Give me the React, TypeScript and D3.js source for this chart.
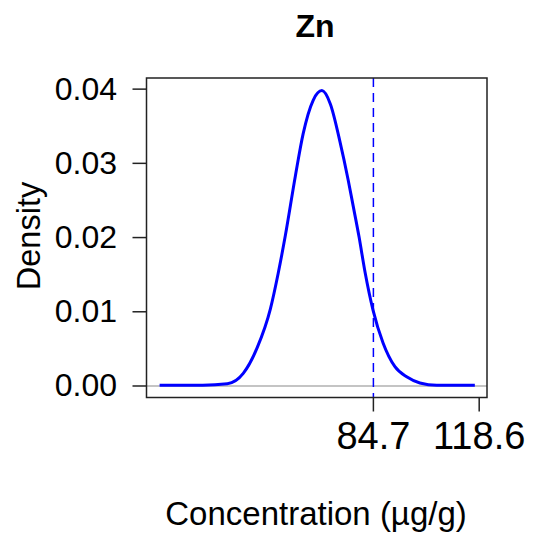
import React from "react";
import * as d3 from "d3";

const title = "Zn";
const xLabel = "Concentration (µg/g)";
const yLabel = "Density";

// density curve points (concentration, density)
const concentration = [16.2, 30.0, 37.9, 43.0, 47.5, 51.7, 54.2, 56.5, 59.7, 62.2, 65.4, 68.2, 70.9, 74.0, 76.6, 78.2, 80.1, 82.0, 84.6, 87.8, 91.6, 95.5, 99.6, 105.0, 117.2];
const density = [0.0001, 0.0001, 0.0003, 0.0017, 0.0052, 0.0104, 0.0152, 0.0203, 0.0283, 0.0340, 0.0385, 0.0398, 0.0380, 0.0329, 0.0278, 0.0243, 0.0201, 0.0154, 0.0102, 0.0058, 0.0026, 0.0012, 0.0004, 0.0001, 0.0001];

const refValue = 84.7;
const xTicks = [84.7, 118.6];
const xTickLabels = ["84.7", "118.6"];
const yTicks = [0, 0.01, 0.02, 0.03, 0.04];
const yTickLabels = ["0.00", "0.01", "0.02", "0.03", "0.04"];

const xDomain = [12.0, 121.1];
const yDomain = [-0.00155, 0.0415];

const FONT = "'Liberation Sans', Arial, Helvetica, sans-serif";

export default function App() {
  const W = 534;
  const H = 539;
  const left = 146.5;
  const right = 487;
  const top = 78;
  const bottom = 397.5;

  const x = d3.scaleLinear().domain(xDomain).range([left, right]);
  const y = d3.scaleLinear().domain(yDomain).range([bottom, top]);

  const pts: [number, number][] = concentration.map((c, i) => [c, density[i]]);
  const line = d3
    .line<[number, number]>()
    .x((d) => x(d[0]))
    .y((d) => y(d[1]))
    .curve(d3.curveMonotoneX);

  return (
    <svg
      width={W}
      height={H}
      style={{ position: "absolute", left: 0, top: 0, background: "#fff" }}
    >
      <rect x={0} y={0} width={W} height={H} fill="#fff" />
      {/* title */}
      <text
        x={315}
        y={37}
        textAnchor="middle"
        fontFamily={FONT}
        fontWeight="bold"
        fontSize={32}
        fill="#000"
      >
        {title}
      </text>

      {/* zero line */}
      <line x1={left} x2={right} y1={y(0)} y2={y(0)} stroke="#c4c4c4" strokeWidth={2} />

      {/* density curve */}
      <path d={line(pts) || ""} fill="none" stroke="#0000ff" strokeWidth={3} strokeLinejoin="round" />

      {/* reference dashed line */}
      <line
        x1={x(refValue)}
        x2={x(refValue)}
        y1={top}
        y2={bottom}
        stroke="#0000ff"
        strokeWidth={1.5}
        strokeDasharray="9,6"
      />

      {/* box */}
      <rect x={left} y={top} width={right - left} height={bottom - top} fill="none" stroke="#222" strokeWidth={1.5} />

      {/* y axis */}
      {yTicks.map((t, i) => (
        <g key={"y" + i}>
          <line x1={left - 14} x2={left} y1={y(t)} y2={y(t)} stroke="#222" strokeWidth={1.5} />
          <text
            x={117}
            y={y(t) + 10.5}
            textAnchor="end"
            fontFamily={FONT}
            fontSize={32}
            fill="#000"
          >
            {yTickLabels[i]}
          </text>
        </g>
      ))}

      {/* x axis */}
      {xTicks.map((t, i) => (
        <g key={"x" + i}>
          <line x1={x(t)} x2={x(t)} y1={bottom} y2={bottom + 14} stroke="#222" strokeWidth={1.5} />
          <text
            x={x(t)}
            y={449}
            textAnchor="middle"
            fontFamily={FONT}
            fontSize={38}
            fill="#000"
          >
            {xTickLabels[i]}
          </text>
        </g>
      ))}

      {/* axis labels */}
      <text x={316} y={525} textAnchor="middle" fontFamily={FONT} fontSize={33} fill="#000">
        {xLabel}
      </text>
      <text
        transform={`translate(40, 236) rotate(-90)`}
        textAnchor="middle"
        fontFamily={FONT}
        fontSize={32.5}
        fill="#000"
      >
        {yLabel}
      </text>
    </svg>
  );
}
